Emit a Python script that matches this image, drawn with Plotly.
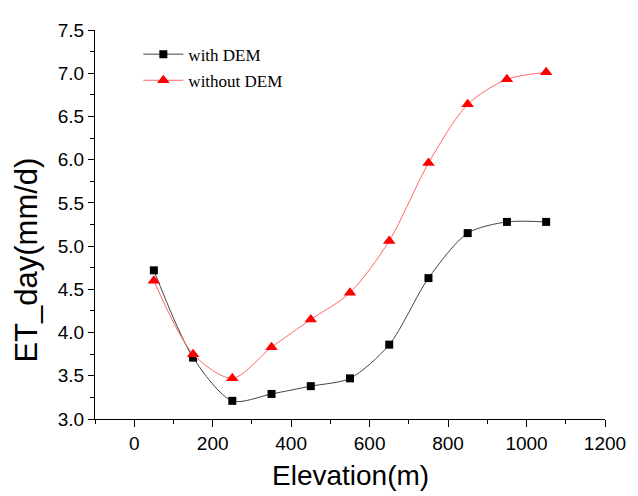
import plotly.graph_objects as go

elevation = [50, 150, 250, 350, 450, 550, 650, 750, 850, 950, 1050]
with_dem = [4.72, 3.71, 3.21, 3.29, 3.38, 3.47, 3.86, 4.63, 5.15, 5.28, 5.28]
without_dem = [4.60, 3.75, 3.47, 3.83, 4.15, 4.46, 5.06, 5.96, 6.64, 6.93, 7.01]
x_ticks = [0, 200, 400, 600, 800, 1000, 1200]

fig = go.Figure()
fig.add_trace(go.Scatter(
    x=elevation, y=with_dem, name="with DEM", mode="lines+markers", legendgroup="a",
    line=dict(color="#444444", width=1, shape="spline", smoothing=0.8),
    marker=dict(symbol="square", size=8, color="black"),
))
fig.add_trace(go.Scatter(
    x=elevation, y=without_dem, name="without DEM", mode="lines+markers", legendgroup="b",
    line=dict(color="#ff6666", width=1, shape="spline", smoothing=0.8),
    marker=dict(symbol="triangle-up", size=11, color="red"),
))

fig.update_layout(
    width=630, height=488,
    margin=dict(l=87, r=27, t=15, b=77),
    plot_bgcolor="white", paper_bgcolor="white",
    showlegend=True,
    legend=dict(x=0.085, y=0.983, xanchor="left", yanchor="top",
                font=dict(family="Liberation Serif", size=17, color="black"),
                bgcolor="rgba(0,0,0,0)", tracegroupgap=1, itemwidth=40),
    font=dict(family="Liberation Sans", color="black"),
    annotations=[
        dict(text="ET_day(mm/d)", textangle=-90, showarrow=False,
             xref="paper", yref="paper", x=-0.134, y=0.409,
             xanchor="center", yanchor="middle",
             font=dict(size=31, family="Liberation Sans", color="black")),
        dict(text="Elevation(m)", showarrow=False,
             xref="paper", yref="paper", x=0.5, y=-0.19,
             xanchor="center", yanchor="bottom",
             font=dict(size=28, family="Liberation Sans", color="black")),
    ],
)
fig.update_xaxes(
    range=[-100, 1200], tickvals=x_ticks,
    showline=True, linecolor="black", linewidth=1, mirror=False,
    ticks="outside", ticklen=7, tickcolor="black",
    minor=dict(dtick=100, tick0=0, ticks="outside", ticklen=4, tickcolor="black"),
    showgrid=False, zeroline=False,
    tickfont=dict(size=19, family="Liberation Sans"),
)
fig.update_yaxes(
    range=[3.0, 7.5], dtick=0.5, tick0=3.0, tickformat=".1f",
    showline=True, linecolor="black", linewidth=1, mirror=False,
    ticks="outside", ticklen=6, tickcolor="black",
    minor=dict(dtick=0.25, tick0=3.0, ticks="outside", ticklen=4, tickcolor="black"),
    showgrid=False, zeroline=False,
    tickfont=dict(size=19, family="Liberation Sans"),
)

fig.write_html("out.html")
